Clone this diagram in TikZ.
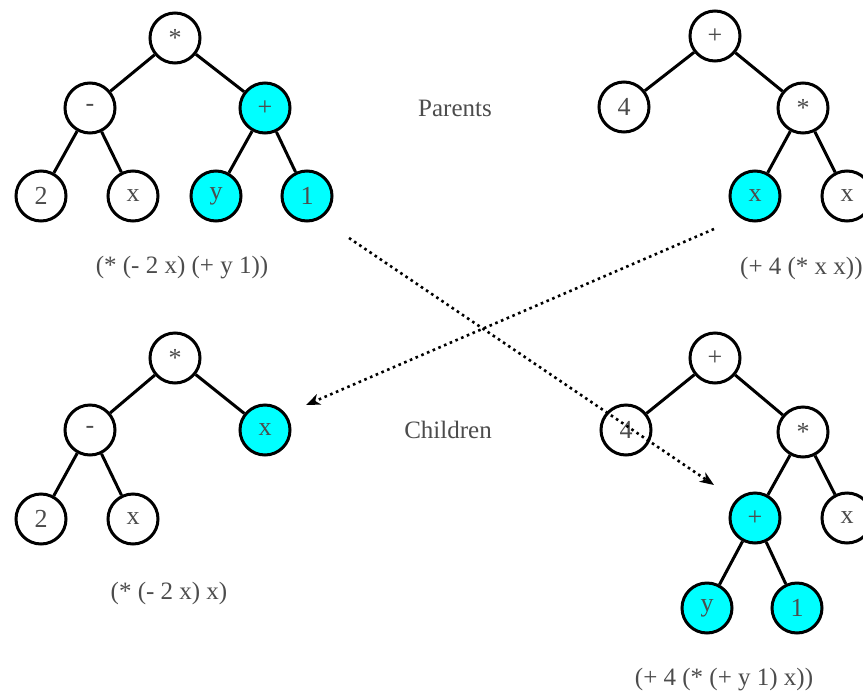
\documentclass[tikz,border=0pt]{standalone}
\usepackage{fontspec}
\setmainfont{Liberation Serif}
\usetikzlibrary{arrows.meta}
\definecolor{hlcyan}{RGB}{0,255,255}
\tikzset{
  tnode/.style={circle,draw=black,line width=3pt,minimum size=50pt,inner sep=0pt,fill=white,text=black!70,font=\fontsize{26}{30}\selectfont},
  hl/.style={tnode,fill=hlcyan},
  edge/.style={line width=3pt,draw=black},
  lbl/.style={inner sep=0pt,text=black!70,font=\fontsize{25}{30}\selectfont},
  xarrow/.style={line width=2.6pt,dash pattern=on 2.6pt off 3.6pt,-{Stealth[length=14pt,width=11pt,inset=4pt]}}
}
\begin{document}
\begin{tikzpicture}[x=1pt,y=-1pt]
\useasboundingbox (0,0) rectangle (863,694);
\clip (0,0) rectangle (863,694);
% top-left parent
\node[tnode] (a0) at (175,38) {*};
\node[tnode] (a1) at (90,108) {-};
\node[hl] (a2) at (265,108) {+};
\node[tnode] (a3) at (41,196) {2};
\node[tnode] (a4) at (133,196) {x};
\node[hl] (a5) at (216,196) {y};
\node[hl] (a6) at (307,196) {1};
\draw[edge] (a0) -- (a1); \draw[edge] (a0) -- (a2);
\draw[edge] (a1) -- (a3); \draw[edge] (a1) -- (a4);
\draw[edge] (a2) -- (a5); \draw[edge] (a2) -- (a6);
\node[lbl] (la) at (182,268) {(* (- 2 x) (+ y 1))};
% top-right parent
\node[tnode] (b0) at (715,36) {+};
\node[tnode] (b1) at (624,107) {4};
\node[tnode] (b2) at (803,108) {*};
\node[hl] (b3) at (755,196) {x};
\node[tnode] (b4) at (847,196) {x};
\draw[edge] (b0) -- (b1); \draw[edge] (b0) -- (b2);
\draw[edge] (b2) -- (b3); \draw[edge] (b2) -- (b4);
\node[lbl,anchor=west] (lb) at (740,268) {(+ 4 (* x x))};
% bottom-left child
\node[tnode] (c0) at (175,358) {*};
\node[tnode] (c1) at (90,430) {-};
\node[hl] (c2) at (265,430) {x};
\node[tnode] (c3) at (41,519) {2};
\node[tnode] (c4) at (133,519) {x};
\draw[edge] (c0) -- (c1); \draw[edge] (c0) -- (c2);
\draw[edge] (c1) -- (c3); \draw[edge] (c1) -- (c4);
\node[lbl] (lc) at (169,593) {(* (- 2 x) x)};
% bottom-right child
\node[tnode] (d0) at (715,358) {+};
\node[tnode,fill=none] (d1) at (626,430) {4};
\node[tnode] (d2) at (803,432) {*};
\node[hl] (d3) at (755,518) {+};
\node[tnode] (d4) at (847,518) {x};
\node[hl] (d5) at (707,608) {y};
\node[hl] (d6) at (797,608) {1};
\draw[edge] (d0) -- (d1); \draw[edge] (d0) -- (d2);
\draw[edge] (d2) -- (d3); \draw[edge] (d2) -- (d4);
\draw[edge] (d3) -- (d5); \draw[edge] (d3) -- (d6);
\node[lbl] (ld) at (724,680) {(+ 4 (* (+ y 1) x))};
% labels
\node[lbl] (par) at (455,108) {Parents};
\node[lbl] (chi) at (448,430) {Children};
% crossover arrows
\coordinate (s1) at (349,238);
\coordinate (e1) at (714,485);
\coordinate (s2) at (714,229);
\coordinate (e2) at (306,405);
\draw[xarrow] (s1) -- (e1);
\draw[xarrow] (s2) -- (e2);
\end{tikzpicture}
\end{document}
